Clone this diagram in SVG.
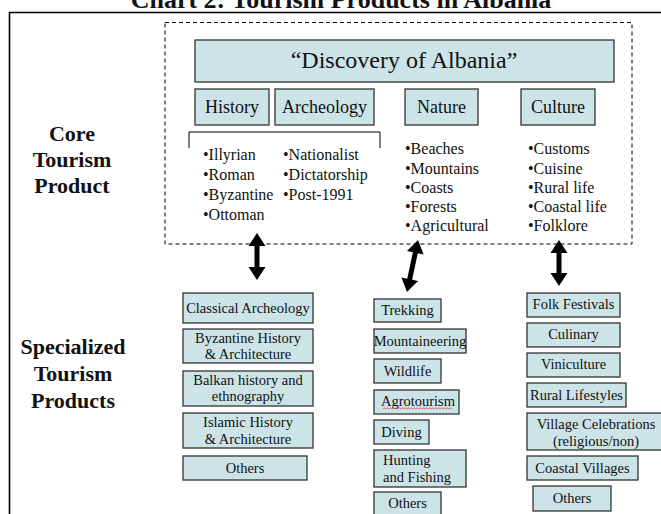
<svg xmlns="http://www.w3.org/2000/svg" width="661" height="514" viewBox="0 0 661 514">
<style>
text{font-family:"Liberation Serif","Times New Roman",serif;fill:#111}
.title{font-size:26px;font-weight:bold;text-anchor:middle}
.side{font-size:22px;font-weight:bold;text-anchor:middle}
.big{font-size:24px;text-anchor:middle}
.cat{font-size:18px;text-anchor:middle}
.bul{font-size:16px}
.sp{font-size:14.5px;text-anchor:middle}
.spl{font-size:14.5px}
.box{fill:#cce4e8;stroke:#333;stroke-width:1.3}
.arrow{fill:#000}
</style>
<rect width="661" height="514" fill="#fff"/>
<text class="title" x="341" y="8">Chart 2: Tourism Products in Albania</text>
<path d="M9.5,514 V12.5 H661" fill="none" stroke="#000" stroke-width="1.6"/>
<rect x="165" y="22.5" width="467" height="221.5" fill="none" stroke="#000" stroke-width="1" stroke-dasharray="4,3"/>
<g id="side-labels">
<text class="side" x="72" y="141">Core</text>
<text class="side" x="72" y="167">Tourism</text>
<text class="side" x="72" y="193">Product</text>
<text class="side" x="73" y="354">Specialized</text>
<text class="side" x="73" y="381">Tourism</text>
<text class="side" x="73" y="408">Products</text>
</g>
<g id="discovery"><rect class="box" x="195" y="40" width="419" height="42"/><text class="big" x="404" y="68">“Discovery of Albania”</text></g>
<g id="history"><rect class="box" x="195" y="89" width="74" height="36"/><text class="cat" x="232" y="113">History</text></g>
<g id="archeology"><rect class="box" x="275" y="89" width="99" height="36"/><text class="cat" x="324.5" y="113">Archeology</text></g>
<g id="nature"><rect class="box" x="405" y="89" width="73" height="36"/><text class="cat" x="441.5" y="113">Nature</text></g>
<g id="culture"><rect class="box" x="521" y="89" width="74" height="36"/><text class="cat" x="558" y="113">Culture</text></g>
<g id="history-list">
<path d="M189,148 V132 H380 V148" fill="none" stroke="#000" stroke-width="1"/>
<text class="bul" x="203" y="160">•Illyrian</text>
<text class="bul" x="203" y="180">•Roman</text>
<text class="bul" x="203" y="200">•Byzantine</text>
<text class="bul" x="203" y="220">•Ottoman</text>
<text class="bul" x="283" y="160">•Nationalist</text>
<text class="bul" x="283" y="180">•Dictatorship</text>
<text class="bul" x="283" y="200">•Post-1991</text>
</g>
<g id="nature-list">
<text class="bul" x="405" y="154">•Beaches</text>
<text class="bul" x="405" y="174">•Mountains</text>
<text class="bul" x="405" y="193">•Coasts</text>
<text class="bul" x="405" y="212">•Forests</text>
<text class="bul" x="405" y="231">•Agricultural</text>
</g>
<g id="culture-list">
<text class="bul" x="528" y="154">•Customs</text>
<text class="bul" x="528" y="174">•Cuisine</text>
<text class="bul" x="528" y="193">•Rural life</text>
<text class="bul" x="528" y="212">•Coastal life</text>
<text class="bul" x="528" y="231">•Folklore</text>
</g>
<g id="connectors">
<polygon class="arrow" points="257,233 265.5,246 259.5,246 259.5,267 265.5,267 257,280 248.5,267 254.5,267 254.5,246 248.5,246"/>
<polygon class="arrow" transform="translate(412.5,266) rotate(12)" points="0,-26.5 8.5,-13.5 2.5,-13.5 2.5,13.5 8.5,13.5 0,26.5 -8.5,13.5 -2.5,13.5 -2.5,-13.5 -8.5,-13.5"/>
<polygon class="arrow" points="559,240 567.5,253 561.5,253 561.5,273 567.5,273 559,286 550.5,273 556.5,273 556.5,253 550.5,253"/>
</g>
<g id="classical"><rect class="box" x="183" y="293" width="130" height="30"/><text class="sp" x="248" y="313">Classical Archeology</text></g>
<g id="byzantine"><rect class="box" x="183" y="329" width="130" height="34"/><text class="sp" x="248" y="343">Byzantine History</text><text class="sp" x="248" y="359">&amp; Architecture</text></g>
<g id="balkan"><rect class="box" x="183" y="371" width="130" height="35"/><text class="sp" x="248" y="385">Balkan history and</text><text class="sp" x="248" y="401">ethnography</text></g>
<g id="islamic"><rect class="box" x="183" y="413" width="130" height="35"/><text class="sp" x="248" y="427">Islamic History</text><text class="sp" x="248" y="444">&amp; Architecture</text></g>
<g id="others-1"><rect class="box" x="183" y="456" width="124" height="24"/><text class="sp" x="245" y="473">Others</text></g>
<g id="trekking"><rect class="box" x="374" y="299" width="67" height="23"/><text class="sp" x="407.5" y="315">Trekking</text></g>
<g id="mountaineering"><rect class="box" x="374" y="329" width="92" height="24"/><text class="sp" x="420" y="346">Mountaineering</text></g>
<g id="wildlife"><rect class="box" x="374" y="359" width="67" height="24"/><text class="sp" x="407.5" y="376">Wildlife</text></g>
<g id="agrotourism"><rect class="box" x="374" y="390" width="85" height="24"/><text class="sp" x="418" y="406">Agrotourism</text><path d="M383,409 l1.5,-1.2 l1.5,1.2 l1.5,-1.2 l1.5,1.2 l1.5,-1.2 l1.5,1.2 l1.5,-1.2 l1.5,1.2 l1.5,-1.2 l1.5,1.2 l1.5,-1.2 l1.5,1.2 l1.5,-1.2 l1.5,1.2 l1.5,-1.2 l1.5,1.2 l1.5,-1.2 l1.5,1.2 l1.5,-1.2 l1.5,1.2 l1.5,-1.2 l1.5,1.2 l1.5,-1.2 l1.5,1.2 l1.5,-1.2 l1.5,1.2 l1.5,-1.2 l1.5,1.2 l1.5,-1.2 l1.5,1.2 l1.5,-1.2 l1.5,1.2 l1.5,-1.2 l1.5,1.2 l1.5,-1.2 l1.5,1.2 l1.5,-1.2 l1.5,1.2 l1.5,-1.2 l1.5,1.2 l1.5,-1.2 l1.5,1.2 l1.5,-1.2 l1.5,1.2 l1.5,-1.2 l1.5,1.2" fill="none" stroke="#e05050" stroke-width="0.8"/></g>
<g id="diving"><rect class="box" x="374" y="420" width="55" height="24"/><text class="sp" x="401.5" y="437">Diving</text></g>
<g id="hunting"><rect class="box" x="374" y="450" width="92" height="37"/><text class="spl" x="383" y="465">Hunting</text><text class="spl" x="383" y="482">and Fishing</text></g>
<g id="others-2"><rect class="box" x="374" y="492" width="67" height="26"/><text class="sp" x="407.5" y="508">Others</text></g>
<g id="folk"><rect class="box" x="527" y="293" width="93" height="24"/><text class="sp" x="573.5" y="309">Folk Festivals</text></g>
<g id="culinary"><rect class="box" x="527" y="323" width="93" height="24"/><text class="sp" x="573.5" y="339">Culinary</text></g>
<g id="viniculture"><rect class="box" x="527" y="353" width="93" height="24"/><text class="sp" x="573.5" y="369">Viniculture</text></g>
<g id="rural"><rect class="box" x="527" y="383" width="99" height="24"/><text class="sp" x="576.5" y="400">Rural Lifestyles</text></g>
<g id="village"><rect class="box" x="527" y="413" width="138" height="37"/><text class="sp" x="596" y="429">Village Celebrations</text><text class="sp" x="596" y="446">(religious/non)</text></g>
<g id="coastal"><rect class="box" x="527" y="456" width="111" height="24"/><text class="sp" x="582.5" y="473">Coastal Villages</text></g>
<g id="others-3"><rect class="box" x="533" y="486" width="78" height="25"/><text class="sp" x="572" y="503">Others</text></g>
</svg>
